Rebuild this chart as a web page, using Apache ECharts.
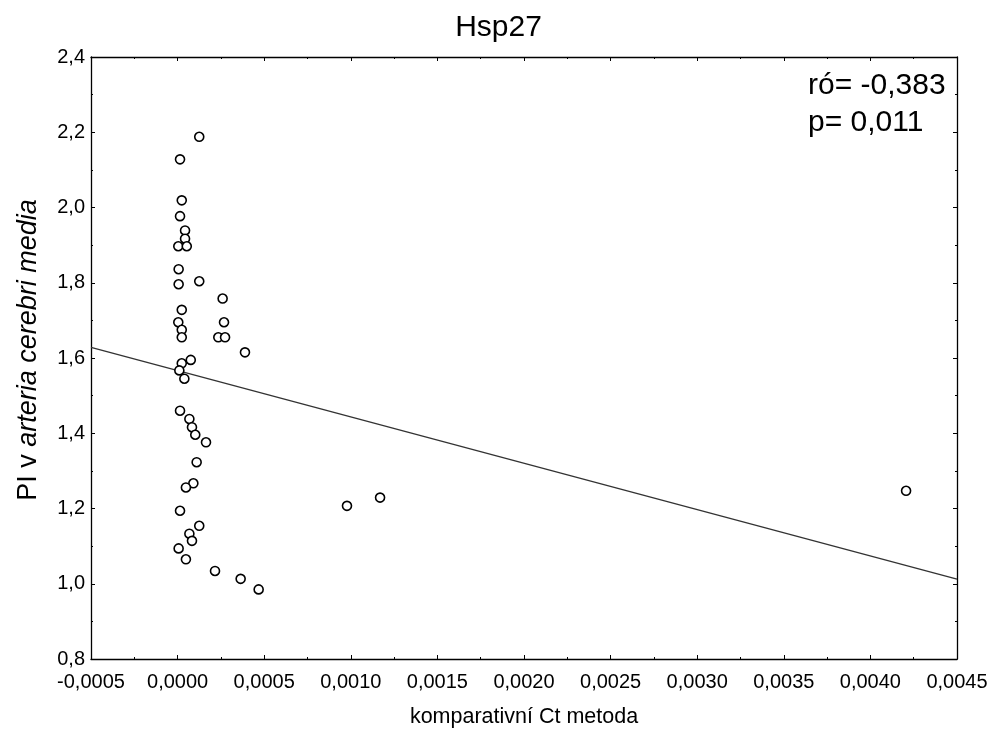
<!DOCTYPE html>
<html><head><meta charset="utf-8">
<script src="https://cdn.jsdelivr.net/npm/echarts@6/dist/echarts.min.js"></script>
<style>html,body{margin:0;padding:0;background:#fff}#c{width:997px;height:735px}</style>
</head><body><div id="c"></div>
<script>
var chartTitle = 'Hsp27';
var xTitle = 'komparativní Ct metoda';
var xVals = [0.000125,0.000014,0.000024,0.000014,0.000043,0.000043,0.000004,0.000053,0.000006,0.000006,0.000125,0.00026,0.000024,0.000004,0.000268,0.000024,0.000024,0.000235,0.000274,0.000389,0.000076,0.000024,0.00001,0.000039,0.000014,0.000068,0.000083,0.000102,0.000164,0.00011,0.000091,0.000048,0.000014,0.000125,0.000068,0.000083,0.000006,0.000048,0.000216,0.000364,0.000468,0.000978,0.001169,0.004206];
var yVals = [2.188,2.128,2.019,1.977,1.939,1.917,1.897,1.897,1.836,1.796,1.804,1.758,1.728,1.695,1.695,1.675,1.655,1.655,1.655,1.615,1.595,1.586,1.567,1.545,1.460,1.438,1.416,1.396,1.376,1.323,1.267,1.256,1.194,1.154,1.133,1.114,1.094,1.065,1.034,1.013,0.985,1.207,1.229,1.247];
var regX = [-0.0005, 0.0045];
var regY = [1.628, 1.012];
var statLines = ['ró= -0,383', 'p= 0,011'];

var pts = xVals.map(function(x,i){return [x,yVals[i]];});
var reg = regX.map(function(x,i){return [x,regY[i]];});
var FONT = '"Liberation Sans", Arial, sans-serif';

function axisCommon(){
  return {
    axisLine:{show:true,onZero:false,lineStyle:{color:'#000',width:1.3}},
    axisTick:{show:true,inside:true,length:4,lineStyle:{color:'#000',width:1}},
    minorTick:{show:true,splitNumber:2,length:2,lineStyle:{color:'#000',width:1}},
    splitLine:{show:false},
  };
}
var xb = Object.assign(axisCommon(),{type:'value',position:'bottom',min:-0.0005,max:0.0045,interval:0.0005,
  axisLabel:{color:'#000',fontFamily:FONT,fontSize:20,margin:13,formatter:function(v){return v.toFixed(4).replace('.',',');}},
  name:xTitle,nameLocation:'middle',nameGap:47,nameTextStyle:{color:'#000',fontFamily:FONT,fontSize:21.5}});
var xt = Object.assign(axisCommon(),{type:'value',position:'top',min:-0.0005,max:0.0045,interval:0.0005,axisLabel:{show:false}});
var yl = Object.assign(axisCommon(),{type:'value',position:'left',min:0.8,max:2.4,interval:0.2,
  axisLabel:{color:'#000',fontFamily:FONT,fontSize:20,margin:6,formatter:function(v){return v.toFixed(1).replace('.',',');}},
  name:'{n|PI v }{i|arteria cerebri media}',nameLocation:'middle',nameGap:49,
  nameTextStyle:{color:'#000',fontFamily:FONT,fontSize:27,padding:[0,0,0,16],rich:{n:{fontFamily:FONT,fontSize:27,color:'#000'},i:{fontFamily:FONT,fontSize:27,fontStyle:'italic',color:'#000'}}}});
var yr = Object.assign(axisCommon(),{type:'value',position:'right',min:0.8,max:2.4,interval:0.2,axisLabel:{show:false}});

var chart = echarts.init(document.getElementById('c'),null,{renderer:'canvas'});
chart.setOption({
  animation:false,
  backgroundColor:'#fff',
  title:{text:chartTitle,left:'center',top:8,textStyle:{color:'#000',fontFamily:FONT,fontSize:30,fontWeight:'normal'}},
  grid:{left:91,top:57,right:40,bottom:76,containLabel:false,outerBoundsMode:'none'},
  xAxis:[xb,xt],
  yAxis:[yl,yr],
  graphic:[{type:'text',left:808,top:67,style:{text:statLines.join('\n'),fontFamily:FONT,fontSize:30,lineHeight:37,fill:'#000'}}],
  series:[
    {type:'line',xAxisIndex:0,yAxisIndex:0,data:reg,symbol:'none',silent:true,z:2,lineStyle:{color:'#333',width:1.3}},
    {type:'scatter',xAxisIndex:0,yAxisIndex:0,data:pts,symbol:'circle',symbolSize:9,z:3,silent:true,
     itemStyle:{color:'#fff',borderColor:'#000',borderWidth:1.6,opacity:1}}
  ]
});
</script></body></html>
